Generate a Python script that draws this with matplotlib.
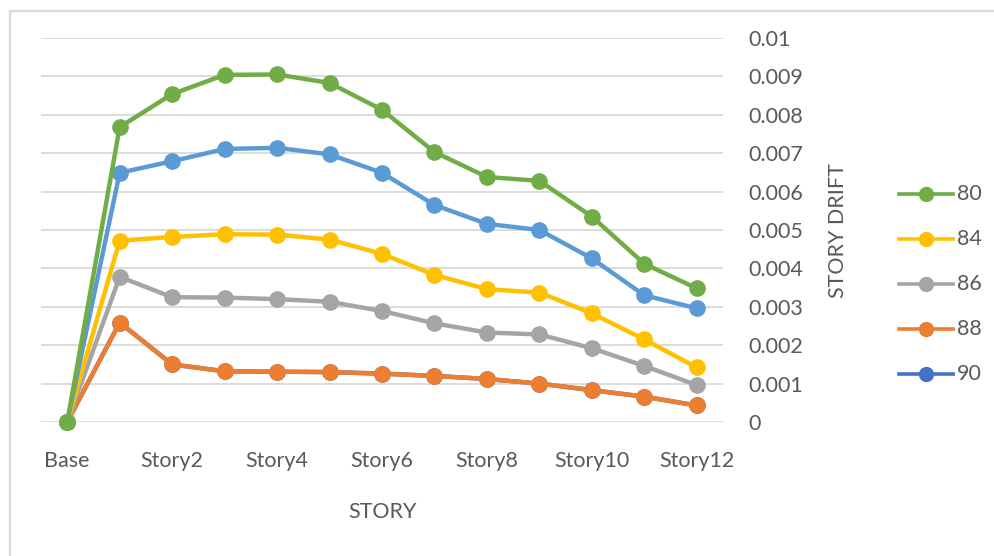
import matplotlib
matplotlib.use("Agg")
import matplotlib.pyplot as plt
from matplotlib.patches import Rectangle
from matplotlib.lines import Line2D

# story levels and drift per series
stories = ["Base"] + ["Story%d" % i for i in range(1, 13)]
tick_labels = ["Base", "Story2", "Story4", "Story6", "Story8", "Story10", "Story12"]

drift_80 = [0, 0.00768, 0.00854, 0.00904, 0.00905, 0.00883, 0.00813, 0.00703,
            0.00638, 0.00628, 0.00535, 0.00412, 0.00348]
drift_82 = [0, 0.00649, 0.00679, 0.00711, 0.00714, 0.00697, 0.00649, 0.00565,
            0.00516, 0.00500, 0.00426, 0.00330, 0.00296]
drift_84 = [0, 0.00472, 0.00482, 0.00489, 0.00488, 0.00475, 0.00438, 0.00383,
            0.00346, 0.00337, 0.00283, 0.00215, 0.00142]
drift_86 = [0, 0.00378, 0.00325, 0.00324, 0.00320, 0.00313, 0.00289, 0.00257,
            0.00233, 0.00228, 0.00192, 0.00146, 0.00096]
drift_88 = [0, 0.00259, 0.00150, 0.00132, 0.00131, 0.00130, 0.00126, 0.00120,
            0.00112, 0.00100, 0.00083, 0.00066, 0.00043]
drift_90 = [0, 0.00259, 0.00150, 0.00132, 0.00131, 0.00130, 0.00126, 0.00120,
            0.00112, 0.00100, 0.00083, 0.00066, 0.00043]

plt.rcParams["font.family"] = ["Lato", "DejaVu Sans"]
txt = "#595959"
fs = 15.5

W, H = 995, 556
fig = plt.figure(figsize=(W / 100, H / 100), dpi=100)
fig.patch.set_facecolor("white")

# chart frame
fig.patches.append(Rectangle((10.5 / W, -0.1), 1.2, (H - 10.5) / H + 0.1,
                             transform=fig.transFigure, fill=False,
                             edgecolor="#D9D9D9", lw=1.6))

x0, x1, ytop, ybot = 41, 723, 38, 422
ax = fig.add_axes([x0 / W, 1 - ybot / H, (x1 - x0) / W, (ybot - ytop) / H])

xs = list(range(len(stories)))
series = [
    (drift_90, "#4472C4", "90"),
    (drift_88, "#ED7D31", "88"),
    (drift_86, "#A5A5A5", "86"),
    (drift_84, "#FFC000", "84"),
    (drift_82, "#5B9BD5", None),
    (drift_80, "#70AD47", "80"),
]
for vals, col, lab in series:
    ax.plot(xs, vals, color=col, lw=3.2, marker="o", ms=11, clip_on=False,
            solid_capstyle="round", zorder=3)

ax.set_xlim(-0.5, 12.5)
ax.set_ylim(0, 0.01)
ax.set_yticks([i / 1000 for i in range(11)])
ax.set_yticklabels(["0"] + ["%g" % (i / 1000) for i in range(1, 11)])
ax.yaxis.tick_right()
ax.set_xticks(range(0, 13, 2))
ax.set_xticklabels(tick_labels)
ax.tick_params(axis="both", length=0, labelsize=fs, colors=txt)
ax.tick_params(axis="y", pad=18)
ax.tick_params(axis="x", pad=21)
ax.grid(axis="y", color="#D9D9D9", lw=1.3)
ax.set_axisbelow(True)
for s in ax.spines.values():
    s.set_visible(False)

fig.text(382 / W, 1 - 512 / H, "STORY", ha="center", va="center",
         fontsize=fs, color=txt)
fig.text(838 / W, 1 - 231 / H, "STORY DRIFT", ha="center", va="center",
         rotation=90, fontsize=fs, color=txt)

# legend
leg_items = [(drift_80, "#70AD47", "80"), (drift_84, "#FFC000", "84"),
             (drift_86, "#A5A5A5", "86"), (drift_88, "#ED7D31", "88"),
             (drift_90, "#4472C4", "90")]
for i, (_, col, lab) in enumerate(leg_items):
    y = 1 - (194 + 45 * i) / H
    fig.add_artist(Line2D([899 / W, 953 / W], [y, y], transform=fig.transFigure,
                          color=col, lw=2.6))
    fig.add_artist(Line2D([926 / W], [y], transform=fig.transFigure, color=col,
                          marker="o", ms=10))
    fig.text(957 / W, y, lab, ha="left", va="center", fontsize=fs, color=txt)

fig.savefig("out.png", dpi=100)
